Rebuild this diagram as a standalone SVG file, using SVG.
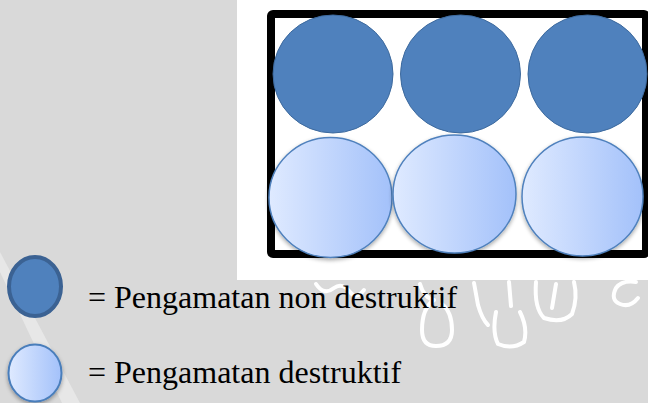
<svg xmlns="http://www.w3.org/2000/svg" width="648" height="403" viewBox="0 0 648 403">
  <style>
    .dark { fill: #4f81bd; stroke: #3d6a9e; stroke-width: 1; }
    .light { fill: url(#lg); stroke: #4f81bd; stroke-width: 1.5; }
    .wm { fill: none; stroke: #ffffff; stroke-width: 4; stroke-linecap: round; stroke-linejoin: round; }
    .lbl { font-family: "Liberation Serif", "Times New Roman", serif; font-size: 32px; fill: #000000; }
  </style>
  <defs>
    <linearGradient id="lg" x1="0" y1="0" x2="1" y2="0">
      <stop offset="0" stop-color="#dfeaff"/>
      <stop offset="1" stop-color="#a3c1fa"/>
    </linearGradient>
    <filter id="sh" x="-20%" y="-20%" width="140%" height="140%">
      <feGaussianBlur in="SourceAlpha" stdDeviation="2"/>
      <feOffset dy="2"/>
      <feComponentTransfer><feFuncA type="linear" slope="0.35"/></feComponentTransfer>
      <feMerge><feMergeNode/><feMergeNode in="SourceGraphic"/></feMerge>
    </filter>
  </defs>

  <!-- background -->
  <rect x="0" y="0" width="648" height="403" fill="#d9d9d9"/>
  <polygon points="0,252 0,272 62,403 80,403" fill="#e7e7e7"/>

  <!-- watermark strokes -->
  <g id="watermark">
    <path class="wm" d="M316,284 q8,12 18,4 q8,-6 16,4 q6,8 14,-2"/>
    <path class="wm" d="M420,284 q4,14 14,16 q-12,8 -12,30 q0,16 14,16 q16,0 16,-16 q0,-18 -10,-26"/>
    <path class="wm" d="M474,283 l4,22 q4,14 10,20"/>
    <path class="wm" d="M496,312 q-4,20 2,32 q14,6 26,-2 q4,-14 -4,-30"/>
    <path class="wm" d="M509,282 l2,24"/>
    <path class="wm" d="M536,282 q-2,26 8,36 q18,6 28,-4 q6,-16 2,-32"/>
    <path class="wm" d="M556,284 l-4,24"/>
    <path class="wm" d="M636,282 q-14,-2 -20,6 q-6,12 4,16 q10,4 18,-6"/>
  </g>

  <!-- white panel -->
  <rect x="237" y="0" width="411" height="280" fill="#ffffff"/>

  <!-- frame -->
  <g id="frame">
    <rect x="271" y="14" width="375" height="240" rx="2" fill="#ffffff" stroke="#000000" stroke-width="8"/>
  </g>

  <!-- top row: non destructive -->
  <g id="n1"><ellipse class="dark" cx="333" cy="74" rx="60" ry="59"/></g>
  <g id="n2"><ellipse class="dark" cx="460.5" cy="74" rx="60" ry="59"/></g>
  <g id="n3"><ellipse class="dark" cx="587.5" cy="74" rx="59.5" ry="59"/></g>

  <!-- bottom row: destructive -->
  <g id="d1"><ellipse class="light" filter="url(#sh)" cx="330.5" cy="197.5" rx="61.5" ry="60"/></g>
  <g id="d2"><ellipse class="light" filter="url(#sh)" cx="454.5" cy="194" rx="61.5" ry="59"/></g>
  <g id="d3"><ellipse class="light" filter="url(#sh)" cx="582.5" cy="196.5" rx="60.5" ry="59.5"/></g>

  <!-- legend -->
  <g id="legend-dark">
    <ellipse cx="35" cy="286.5" rx="26" ry="29.5" fill="#4f81bd" stroke="#3b6293" stroke-width="4"/>
    <text class="lbl" x="88" y="308">= Pengamatan non destruktif</text>
  </g>
  <g id="legend-light">
    <ellipse cx="35" cy="373" rx="26.5" ry="28.5" fill="url(#lg)" stroke="#4a7ebb" stroke-width="2" filter="url(#sh)"/>
    <text class="lbl" x="88" y="383">= Pengamatan destruktif</text>
  </g>
</svg>
